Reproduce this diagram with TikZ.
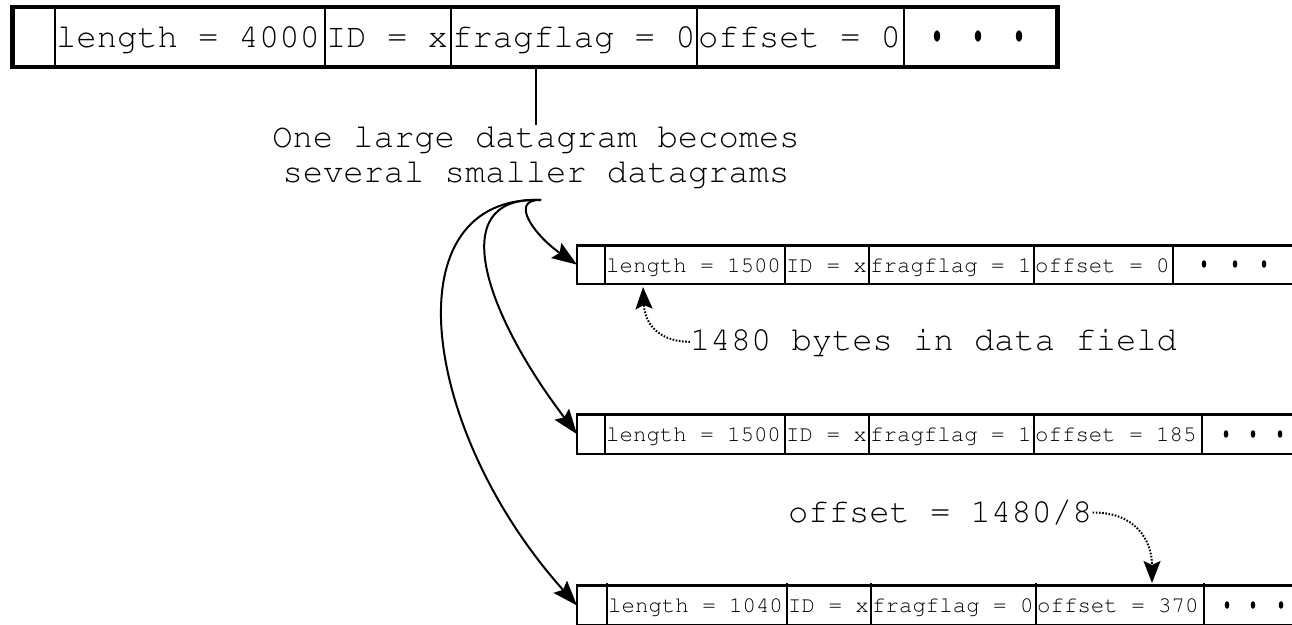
\documentclass[tikz,border=0pt]{standalone}
\usepackage[T1]{fontenc}
\usepackage{courier}
\usetikzlibrary{arrows.meta}

\begin{document}
\begin{tikzpicture}[x=1pt,y=-1pt,
  bigtxt/.style={font=\ttfamily\fontsize{33.8}{35}\selectfont, inner sep=0pt, anchor=base west},
  smalltxt/.style={font=\ttfamily\fontsize{22.4}{24}\selectfont, inner sep=0pt, anchor=base west},
  msgtxt/.style={font=\ttfamily\fontsize{33.8}{35}\selectfont, inner sep=0pt},
  bigframe/.style={draw, line width=4.3pt, rectangle, outer sep=0pt, inner sep=0pt, anchor=north west},
  smallframe/.style={draw, line width=2.7pt, rectangle, outer sep=0pt, inner sep=0pt, anchor=north west},
  bigsep/.style={line width=2pt},
  smallsep/.style={line width=1.2pt},
  bigdot/.style={fill=black, x radius=3.1pt, y radius=5.8pt},
  smalldot/.style={fill=black, x radius=2.3pt, y radius=3.8pt},
  fragarrow/.style={line width=2pt, -{Stealth[length=25pt, width=18pt, inset=4pt]}},
  notearrow/.style={line width=2pt, dash pattern=on 1.6pt off 1.6pt,
                    -{Stealth[length=22pt, width=17pt, inset=4pt]}}
]
\useasboundingbox (0,0) rectangle (1292,624);
\clip (0,0) rectangle (1292,624);
\fill[white] (0,0) rectangle (1292,624);

% ---------- original datagram ----------
\node[bigframe, minimum width=1045pt, minimum height=60pt] (big) at (12.5,7) {};
\foreach \x in {55,325,451,697,904}
  \draw[bigsep] (\x,7) -- (\x,67);
\node[bigtxt] (blen)  at (56,47)  {length = 4000};
\node[bigtxt] (bid)   at (326,47) {ID = x};
\node[bigtxt] (bflag) at (452,47) {fragflag = 0};
\node[bigtxt] (boff)  at (698,47) {offset = 0};
\foreach \x in {937,978,1019}
  \fill[bigdot] (\x,36) ellipse [];

% ---------- caption ----------
\node[msgtxt, anchor=base] (msg1) at (536,147) {One large datagram becomes};
\node[msgtxt, anchor=base] (msg2) at (536,182) {several smaller datagrams};
\draw[line width=2pt] (big.south -| msg1.north) -- (msg1.north);
\coordinate (fork) at (541,200);

% ---------- fragment 1 ----------
\node[smallframe, minimum width=740pt, minimum height=38.7pt] (frag1) at (577,245.3) {};
\foreach \x in {605,785,869,1034,1173}
  \draw[smallsep] (\x,245.3) -- (\x,284);
\node[smalltxt] (f1len)  at (606,272)  {length = 1500};
\node[smalltxt] (f1id)   at (786,272)  {ID = x};
\node[smalltxt] (f1flag) at (870,272)  {fragflag = 1};
\node[smalltxt] (f1off)  at (1035,272) {offset = 0};
\foreach \x in {1204,1235,1264}
  \fill[smalldot] (\x,264) ellipse [];

% ---------- fragment 2 ----------
\node[smallframe, minimum width=740pt, minimum height=39.7pt] (frag2) at (577,414.3) {};
\foreach \x in {605,785,869,1034,1202}
  \draw[smallsep] (\x,414.3) -- (\x,454);
\node[smalltxt] (f2len)  at (606,441.5)  {length = 1500};
\node[smalltxt] (f2id)   at (786,441.5)  {ID = x};
\node[smalltxt] (f2flag) at (870,441.5)  {fragflag = 1};
\node[smalltxt] (f2off)  at (1035,441.5) {offset = 185};
\foreach \x in {1226,1253,1280}
  \fill[smalldot] (\x,434) ellipse [];

% ---------- fragment 3 ----------
\node[smallframe, minimum width=740pt, minimum height=40pt] (frag3) at (577,585.5) {};
\foreach \x in {607,787,871,1036,1204}
  \draw[smallsep] (\x,583) -- (\x,626);
\node[smalltxt] (f3len)  at (608,612.5)  {length = 1040};
\node[smalltxt] (f3id)   at (788,612.5)  {ID = x};
\node[smalltxt] (f3flag) at (872,612.5)  {fragflag = 0};
\node[smalltxt] (f3off)  at (1037,612.5) {offset = 370};
\foreach \x in {1227,1253,1281}
  \fill[smalldot] (\x,605) ellipse [];

% ---------- fragmentation arrows ----------
\draw[fragarrow] (fork) .. controls (508,199) and (535,236) .. (frag1.west);
\draw[fragarrow] (fork) .. controls (440,195) and (490,320) .. (frag2.west);
\draw[fragarrow] (fork) .. controls (390,195) and (420,430) .. (frag3.west);

% ---------- notes ----------
\node[bigtxt] (bytes) at (690,350) {1480 bytes in data field};
\coordinate (datamark) at (643,287);
\draw[notearrow] (bytes.west) .. controls (664,342) and (645,328) .. (datamark);

\node[bigtxt] (calc) at (788,522) {offset = 1480/8};
\coordinate (offmark) at (1152,583);
\draw[notearrow] (calc.east) .. controls (1135,512) and (1152,540) .. (offmark);
\end{tikzpicture}
\end{document}
